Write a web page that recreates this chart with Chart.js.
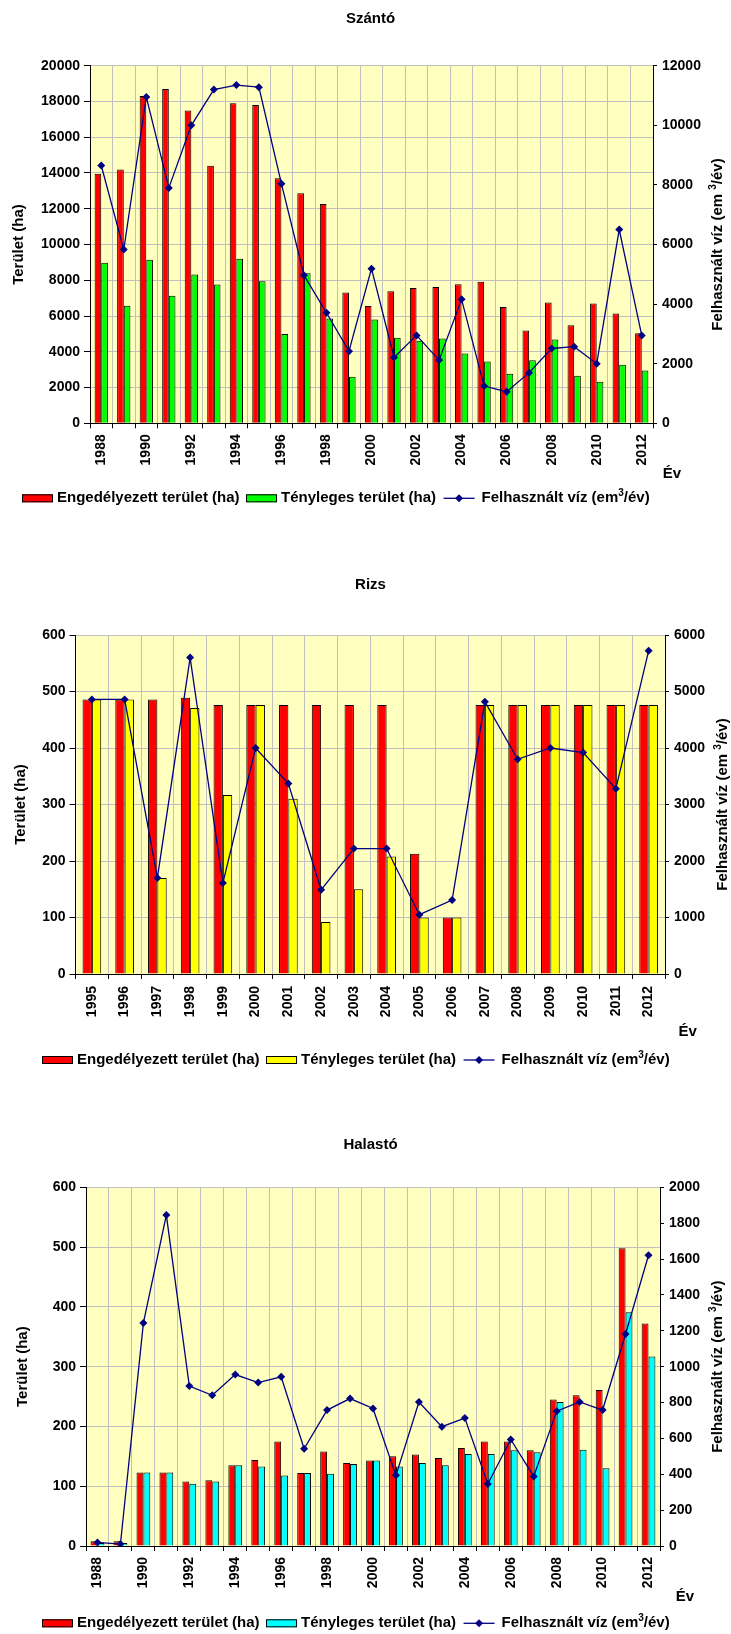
<!DOCTYPE html>
<html>
<head>
<meta charset="utf-8">
<script src="https://cdn.jsdelivr.net/npm/chart.js@4/dist/chart.umd.min.js"></script>
<style>
html,body{margin:0;padding:0;background:#fff;width:731px;height:1634px;overflow:hidden}
.box{position:absolute;left:0;width:731px}
canvas{display:block}
</style>
</head>
<body>
<div class="box" style="top:0;height:540px"><canvas id="c1" width="731" height="540" style="width:731px;height:540px"></canvas></div>
<div class="box" style="top:540px;height:550px"><canvas id="c2" width="731" height="550" style="width:731px;height:550px"></canvas></div>
<div class="box" style="top:1090px;height:544px"><canvas id="c3" width="731" height="544" style="width:731px;height:544px"></canvas></div>
<script>
// ---------- DATA ----------
const szantoYears = ['1988','1989','1990','1991','1992','1993','1994','1995','1996','1997','1998','1999','2000','2001','2002','2003','2004','2005','2006','2007','2008','2009','2010','2011','2012'];
const szantoEngedelyezett = [13950,14200,18300,18700,17500,14400,17900,17800,13700,12870,12260,7320,6560,7380,7570,7630,7780,7910,6510,5190,6750,5490,6700,6140,5040];
const szantoTenyleges = [8980,6570,9150,7140,8320,7760,9210,7940,4990,8390,5860,2600,5800,4790,4610,4740,3910,3460,2770,3530,4690,2660,2330,3270,2960];
const szantoViz = [8650,5830,10950,7900,10000,11200,11350,11280,8040,4970,3710,2420,5190,2210,2950,2120,4160,1250,1060,1700,2510,2570,2000,6500,2950];

const rizsYears = ['1995','1996','1997','1998','1999','2000','2001','2002','2003','2004','2005','2006','2007','2008','2009','2010','2011','2012'];
const rizsEngedelyezett = [486,486,486,489,476,476,476,476,476,476,213,100,476,476,476,476,476,476];
const rizsTenyleges = [486,486,170,471,317,476,310,92,150,208,100,100,476,476,476,476,476,476];
const rizsViz = [4860,4860,1700,5600,1610,4000,3370,1490,2220,2220,1050,1310,4820,3800,4000,3920,3280,5720];

const halastoYears = ['1988','1989','1990','1991','1992','1993','1994','1995','1996','1997','1998','1999','2000','2001','2002','2003','2004','2005','2006','2007','2008','2009','2010','2011','2012'];
const halastoEngedelyezett = [8,8,123,123,108,110,135,144,175,122,158,139,143,150,153,147,164,175,175,160,245,252,261,498,372];
const halastoTenyleges = [5,5,123,123,104,108,135,133,118,122,121,137,143,133,139,135,154,154,160,157,241,161,130,391,317];
const halastoViz = [20,11,1244,1845,892,840,956,911,943,542,758,822,767,394,803,665,713,346,594,388,752,803,758,1182,1621];

const labelEngedelyezett = 'Engedélyezett terület (ha)';
const labelTenyleges = 'Tényleges terület (ha)';
const labelViz = 'Felhasznált víz (em³/év)';
const leftAxisTitle = 'Terület (ha)';
const rightAxisTitle = 'Felhasznált víz (em ³/év)';
const xAxisTitle = 'Év';

// ---------- STYLE ----------
const FONT = '"Liberation Sans", Arial, sans-serif';
Chart.defaults.font.family = FONT;
Chart.defaults.font.size = 14;
Chart.defaults.font.weight = 'bold';
Chart.defaults.color = '#000';

function drawRich(ctx, text, x, y, align, size) {
  const parts = text.split('³');
  const mainFont = 'bold ' + size + 'px ' + FONT;
  const supFont = 'bold ' + Math.round(size * 0.65) + 'px ' + FONT;
  const segs = [];
  parts.forEach((p, i) => {
    if (i > 0) segs.push({t: '3', sup: true});
    if (p) segs.push({t: p, sup: false});
  });
  let total = 0;
  segs.forEach(s => { ctx.font = s.sup ? supFont : mainFont; s.w = ctx.measureText(s.t).width; total += s.w; });
  let cx = align === 'center' ? x - total / 2 : x;
  ctx.textBaseline = 'middle';
  ctx.textAlign = 'left';
  segs.forEach(s => {
    ctx.font = s.sup ? supFont : mainFont;
    ctx.fillText(s.t, cx, s.sup ? y - size * 0.35 : y);
    cx += s.w;
  });
  return total;
}

const decor = {
  id: 'decor',
  beforeDraw(chart, args, o) {
    const {ctx, chartArea: a} = chart;
    ctx.save();
    ctx.fillStyle = o.bg;
    ctx.fillRect(a.left, a.top, a.right - a.left, a.bottom - a.top);
    ctx.restore();
  },
  afterDraw(chart, args, o) {
    const {ctx, chartArea: a} = chart;
    ctx.save();
    ctx.fillStyle = '#000';
    ctx.translate(o.rightTitleX, (a.top + a.bottom) / 2);
    ctx.rotate(-Math.PI / 2);
    drawRich(ctx, rightAxisTitle, 0, 0, 'center', 15);
    ctx.restore();
    ctx.save();
    ctx.fillStyle = '#000';
    drawRich(ctx, xAxisTitle, o.evX, o.evY, 'center', 15);
    ctx.restore();
    ctx.save();
    let x = o.legendX;
    const y = o.legendY;
    chart.data.datasets.forEach((ds) => {
      if (ds.type === 'line') {
        x += 1;
        ctx.strokeStyle = ds.borderColor; ctx.lineWidth = 1.3;
        ctx.beginPath(); ctx.moveTo(x, y); ctx.lineTo(x + 31, y); ctx.stroke();
        ctx.fillStyle = ds.borderColor;
        ctx.beginPath(); ctx.moveTo(x + 15.5 - 4, y); ctx.lineTo(x + 15.5, y - 4); ctx.lineTo(x + 15.5 + 4, y); ctx.lineTo(x + 15.5, y + 4); ctx.closePath(); ctx.fill();
        x += 31 + 7;
      } else {
        ctx.fillStyle = ds.backgroundColor;
        ctx.fillRect(x, y - 4, 31, 8);
        ctx.strokeStyle = '#000'; ctx.lineWidth = 1;
        ctx.strokeRect(x + 0.5, y - 3.5, 30, 7);
        x += 31 + 4;
      }
      ctx.fillStyle = '#000';
      const w = drawRich(ctx, ds.label, x, y, 'left', 15);
      x += w + 6.5;
    });
    ctx.restore();
  }
};

function makeChart(id, c) {
  const step = c.labelStep;
  new Chart(document.getElementById(id), {
    data: {
      labels: c.labels,
      datasets: [
        {type: 'bar', label: labelEngedelyezett, data: c.eng, yAxisID: 'y', order: 2,
          backgroundColor: '#FF0000', borderColor: '#000', borderWidth: 1,
          barPercentage: 1, categoryPercentage: c.catPct},
        {type: 'bar', label: labelTenyleges, data: c.ten, yAxisID: 'y', order: 2,
          backgroundColor: c.color2, borderColor: '#000', borderWidth: 1,
          barPercentage: 1, categoryPercentage: c.catPct},
        {type: 'line', label: labelViz, data: c.viz, yAxisID: 'y1', order: 0,
          borderColor: '#000080', backgroundColor: '#000080', borderWidth: 1.3,
          pointStyle: 'rectRot', pointRadius: 4, pointBorderWidth: 0, pointBackgroundColor: '#000080', tension: 0}
      ]
    },
    options: {
      responsive: false,
      animation: false,
      events: [],
      layout: {padding: {left: 10, right: 0, top: 0, bottom: c.padBottom}},
      plugins: {
        legend: {display: false},
        tooltip: {enabled: false},
        title: {display: true, text: c.title, color: '#000', font: {size: 15, weight: 'bold'}, padding: {top: c.titleTop, bottom: c.titleBottom}},
        decor: c.decor
      },
      scales: {
        x: {
          offset: true,
          grid: {color: '#c0c0c0', tickColor: '#000', tickLength: 5, offset: true, lineWidth: 1},
          border: {color: '#000', width: 1},
          ticks: {autoSkip: false, maxRotation: 90, minRotation: 90, padding: c.xPad, font: {size: 14, weight: 'bold'},
            callback(v, i) { return i % step === 0 ? this.getLabelForValue(v) : ''; }},
          afterFit(s) { s.height = 60; }
        },
        y: {
          position: 'left', min: 0, max: c.yMax,
          ticks: {stepSize: c.yStep, padding: 4, font: {size: 14, weight: 'bold'}, callback: v => String(v)},
          grid: {color: '#c0c0c0', tickColor: '#000', tickLength: 6, lineWidth: 1},
          border: {color: '#000', width: 1},
          title: {display: true, text: leftAxisTitle, color: '#000', font: {size: 15, weight: 'bold'}, padding: {top: c.yTitlePad, bottom: 0}},
          afterFit(s) { s.width = c.yWidth; }
        },
        y1: {
          position: 'right', min: 0, max: c.y1Max,
          ticks: {stepSize: c.y1Step, padding: 5, font: {size: 14, weight: 'bold'}, callback: v => String(v)},
          grid: {drawOnChartArea: false, tickColor: '#000', tickLength: 4},
          border: {color: '#000', width: 1},
          afterFit(s) { s.width = c.y1Width; }
        }
      }
    },
    plugins: [decor]
  });
}

makeChart('c1', {
  title: 'Szántó', labels: szantoYears, eng: szantoEngedelyezett, ten: szantoTenyleges, viz: szantoViz,
  color2: '#00FF00', catPct: 0.59, labelStep: 2,
  yMax: 20000, yStep: 2000, y1Max: 12000, y1Step: 2000,
  padBottom: 56.7, titleTop: 10, titleBottom: 37.7, yWidth: 80, y1Width: 78, yTitlePad: 0, xPad: 6,
  decor: {bg: '#FFFFC0', rightTitleX: 718, evX: 672, evY: 474, legendX: 22, legendY: 498.3}
});

makeChart('c2', {
  title: 'Rizs', labels: rizsYears, eng: rizsEngedelyezett, ten: rizsTenyleges, viz: rizsViz,
  color2: '#FFFF00', catPct: 0.57, labelStep: 1,
  yMax: 600, yStep: 100, y1Max: 6000, y1Step: 1000,
  padBottom: 56, titleTop: 36, titleBottom: 41, yWidth: 65.5, y1Width: 66, yTitlePad: 2, xPad: 7,
  decor: {bg: '#FFFFC0', rightTitleX: 723, evX: 687.6, evY: 491.7, legendX: 42, legendY: 520}
});

makeChart('c3', {
  title: 'Halastó', labels: halastoYears, eng: halastoEngedelyezett, ten: halastoTenyleges, viz: halastoViz,
  color2: '#00FFFF', catPct: 0.6, labelStep: 2,
  yMax: 600, yStep: 100, y1Max: 2000, y1Step: 200,
  padBottom: 28, titleTop: 46, titleBottom: 33.3, yWidth: 76, y1Width: 71, yTitlePad: 4.3, xPad: 6,
  decor: {bg: '#FFFFC0', rightTitleX: 718, evX: 685, evY: 506.7, legendX: 42, legendY: 533.3}
});
</script>
</body>
</html>
